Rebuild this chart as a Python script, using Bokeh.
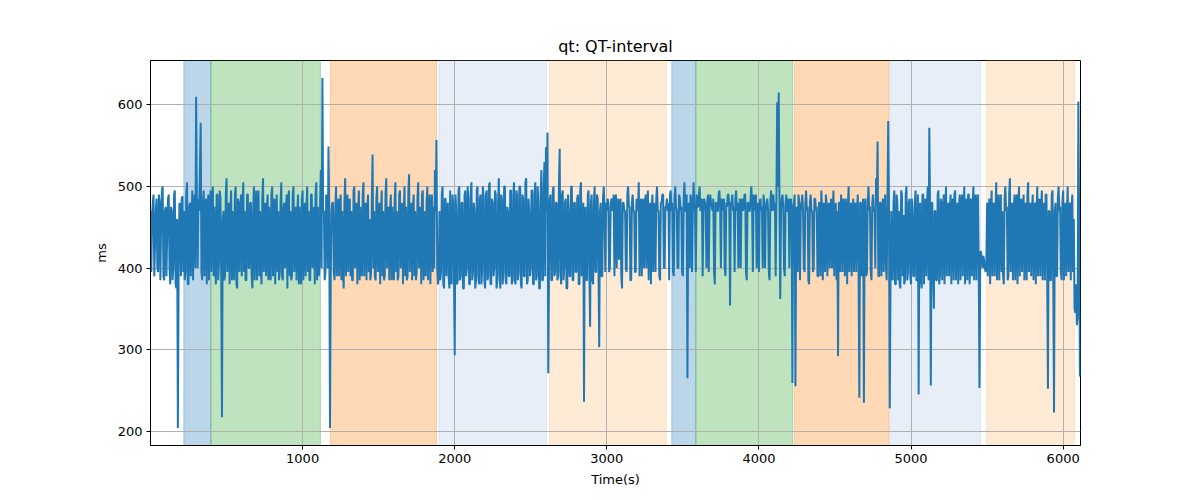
from bokeh.plotting import figure
from bokeh.models import Range1d, FixedTicker, ColumnDataSource
from bokeh.embed import file_html
from bokeh.resources import INLINE

# QT interval values (ms), one sample every 5 s
qt_ms = [
    470, 395, 455, 480, 490, 390, 430, 470, 485, 400, 395, 490, 480, 385, 460, 495, 500, 390, 385, 470,
    475, 390, 445, 485, 490, 400, 380, 475, 470, 385, 400, 490, 495, 380, 375, 460, 204, 400, 480, 470,
    390, 485, 488, 395, 470, 385, 395, 490, 505, 380, 380, 475, 480, 390, 455, 495, 385, 470, 490, 400,
    610, 470, 400, 485, 470, 520, 578, 395, 385, 480, 495, 390, 460, 485, 380, 470, 490, 385, 470, 495,
    395, 480, 500, 390, 475, 400, 380, 490, 490, 385, 405, 495, 485, 390, 217, 460, 470, 385, 390, 490,
    510, 395, 450, 480, 380, 470, 495, 385, 470, 400, 385, 490, 500, 380, 375, 485, 480, 395, 465, 490,
    390, 475, 505, 395, 470, 385, 385, 490, 490, 400, 400, 480, 480, 390, 375, 470, 500, 385, 460, 495,
    385, 470, 495, 390, 470, 400, 380, 485, 510, 395, 445, 480, 390, 470, 490, 385, 475, 395, 385, 490,
    500, 390, 460, 485, 380, 470, 490, 395, 470, 385, 395, 480, 505, 390, 385, 475, 480, 400, 465, 490,
    375, 480, 495, 390, 470, 385, 390, 490, 500, 395, 440, 475, 385, 470, 490, 380, 475, 400, 380, 485,
    495, 385, 465, 480, 390, 470, 500, 395, 470, 385, 385, 490, 490, 400, 460, 475, 380, 490, 505, 385,
    475, 390, 395, 480, 520, 400, 633, 470, 470, 385, 395, 490, 485, 400, 549, 470, 204, 390, 470, 480,
    480, 395, 385, 470, 500, 390, 460, 485, 390, 475, 490, 385, 470, 400, 375, 480, 510, 390, 455, 490,
    395, 480, 485, 390, 470, 385, 385, 495, 500, 400, 465, 480, 380, 470, 495, 385, 475, 395, 390, 490,
    505, 390, 470, 480, 385, 470, 490, 395, 460, 385, 395, 480, 539, 400, 470, 390, 385, 485, 500, 395,
    465, 480, 380, 470, 495, 390, 470, 385, 390, 490, 510, 400, 455, 475, 385, 470, 490, 385, 475, 395,
    385, 480, 505, 395, 470, 385, 390, 490, 495, 400, 460, 480, 380, 470, 500, 390, 475, 385, 390, 490,
    515, 395, 465, 480, 385, 470, 490, 390, 470, 385, 395, 485, 505, 400, 460, 475, 380, 490, 495, 385,
    470, 395, 390, 480, 500, 385, 465, 490, 380, 470, 490, 395, 475, 400, 520, 470, 557, 400, 380, 390,
    470, 385, 395, 490, 500, 380, 375, 485, 485, 390, 460, 480, 390, 375, 495, 385, 380, 490, 480, 395,
    293, 490, 470, 380, 385, 495, 500, 385, 390, 480, 480, 375, 375, 490, 495, 390, 400, 500, 485, 380,
    380, 490, 505, 385, 395, 480, 470, 375, 385, 495, 500, 390, 380, 485, 490, 380, 395, 500, 485, 385,
    375, 490, 495, 385, 390, 500, 505, 380, 380, 485, 480, 390, 400, 495, 490, 375, 385, 480, 510, 390,
    375, 490, 485, 380, 395, 500, 500, 385, 380, 475, 470, 390, 390, 495, 495, 380, 385, 490, 505, 385,
    380, 495, 490, 385, 395, 500, 500, 380, 375, 490, 485, 390, 390, 505, 510, 380, 385, 485, 470, 390,
    400, 495, 495, 380, 380, 490, 505, 385, 390, 500, 480, 375, 375, 490, 520, 385, 385, 500, 530, 390,
    548, 470, 566, 271, 400, 485, 490, 385, 385, 495, 500, 390, 395, 480, 480, 385, 390, 500, 546, 395,
    380, 490, 495, 385, 400, 480, 485, 375, 375, 490, 470, 390, 390, 500, 500, 385, 385, 480, 480, 395,
    395, 485, 490, 380, 380, 495, 505, 390, 400, 480, 236, 470, 475, 385, 385, 490, 495, 400, 328, 480,
    490, 385, 380, 480, 500, 395, 395, 490, 485, 400, 303, 470, 480, 390, 390, 485, 500, 470, 395, 480,
    470, 485, 480, 395, 400, 475, 485, 470, 475, 490, 390, 480, 490, 400, 470, 485, 410, 470, 485, 390,
    375, 480, 480, 470, 470, 400, 395, 490, 500, 475, 475, 385, 385, 480, 490, 470, 470, 395, 395, 485,
    480, 470, 505, 390, 470, 485, 390, 475, 485, 400, 475, 490, 400, 470, 495, 385, 470, 480, 380, 475,
    490, 395, 480, 470, 395, 485, 500, 470, 470, 390, 385, 480, 480, 490, 490, 400, 400, 475, 475, 485,
    470, 480, 385, 490, 495, 470, 480, 395, 390, 485, 500, 475, 470, 400, 400, 490, 485, 470, 475, 395,
    390, 480, 505, 470, 470, 490, 265, 475, 480, 400, 490, 485, 395, 470, 505, 480, 470, 395, 490, 475,
    475, 490, 500, 470, 480, 485, 390, 470, 485, 480, 470, 400, 480, 490, 395, 475, 490, 480, 475, 470,
    485, 395, 380, 480, 480, 470, 470, 490, 495, 475, 400, 485, 480, 470, 485, 400, 390, 480, 475, 490,
    490, 475, 354, 480, 480, 490, 470, 475, 395, 485, 495, 470, 480, 400, 470, 485, 400, 480, 485, 470,
    475, 490, 490, 395, 385, 480, 480, 470, 470, 485, 500, 475, 395, 490, 480, 470, 490, 400, 470, 480,
    395, 480, 485, 470, 475, 400, 490, 480, 400, 470, 480, 485, 470, 395, 385, 480, 495, 470, 480, 490,
    470, 480, 390, 485, 603, 500, 615, 480, 362, 470, 485, 490, 475, 400, 390, 480, 490, 470, 470, 485,
    400, 480, 485, 470, 259, 475, 480, 490, 255, 470, 475, 395, 490, 480, 385, 470, 480, 490, 470, 400,
    395, 480, 495, 470, 475, 385, 380, 480, 490, 470, 470, 395, 400, 485, 485, 470, 475, 390, 390, 480,
    480, 390, 495, 470, 385, 480, 470, 395, 490, 480, 390, 470, 480, 400, 475, 485, 400, 470, 495, 390,
    470, 480, 385, 470, 292, 480, 480, 395, 490, 470, 395, 485, 475, 390, 485, 470, 380, 480, 500, 395,
    470, 480, 390, 470, 485, 395, 475, 480, 395, 470, 490, 400, 241, 480, 480, 390, 470, 485, 235, 470,
    485, 390, 395, 480, 500, 470, 475, 395, 385, 480, 490, 470, 470, 400, 510, 480, 555, 390, 390, 480,
    480, 390, 470, 485, 395, 470, 490, 400, 385, 480, 580, 470, 228, 385, 470, 390, 385, 480, 495, 380,
    380, 490, 480, 385, 470, 380, 375, 495, 490, 390, 465, 380, 385, 490, 500, 385, 395, 480, 485, 390,
    380, 485, 470, 390, 390, 480, 495, 385, 385, 490, 245, 470, 480, 385, 375, 490, 490, 380, 465, 485,
    390, 480, 500, 385, 572, 470, 256, 480, 480, 390, 350, 470, 470, 385, 385, 490, 495, 380, 390, 485,
    480, 385, 470, 490, 380, 475, 500, 390, 465, 480, 390, 470, 490, 380, 470, 485, 385, 490, 495, 385,
    460, 480, 380, 475, 490, 385, 475, 490, 390, 470, 500, 380, 470, 485, 385, 490, 490, 380, 475, 485,
    390, 480, 500, 385, 470, 490, 385, 475, 490, 400, 253, 420, 420, 410, 400, 415, 410, 400, 395, 405,
    480, 390, 470, 485, 380, 470, 495, 390, 475, 480, 390, 470, 505, 385, 460, 490, 385, 475, 490, 395,
    470, 390, 380, 485, 500, 470, 475, 385, 390, 490, 510, 395, 465, 480, 385, 470, 490, 385, 475, 490,
    380, 475, 500, 390, 470, 485, 395, 470, 490, 385, 475, 480, 385, 490, 505, 395, 470, 480, 390, 470,
    490, 385, 475, 480, 380, 470, 500, 390, 470, 485, 390, 470, 495, 385, 465, 480, 385, 490, 490, 395,
    252, 470, 470, 385, 385, 490, 495, 380, 223, 470, 480, 390, 390, 485, 500, 470, 475, 395, 385, 480,
    495, 385, 470, 480, 390, 470, 500, 395, 475, 480, 385, 470, 490, 395, 460, 350, 345, 380, 330, 340,
    604, 460, 267,
]
sample_step_s = 5
time_s = [i * sample_step_s for i in range(len(qt_ms))]

# Shaded segments (start, end, colour)
seg_start = [219, 397, 1183, 1896, 2622, 3427, 3585, 4234, 4861, 5496]
seg_end = [397, 1117, 1880, 2603, 3391, 3585, 4223, 4855, 5457, 6075]
seg_color = ["#1f77b4", "#2ca02c", "#ff7f0e", "#aec7e8", "#ffbb78",
             "#1f77b4", "#2ca02c", "#ff7f0e", "#aec7e8", "#ffbb78"]

x_ticks = [1000, 2000, 3000, 4000, 5000, 6000]
y_ticks = [200, 300, 400, 500, 600]

p = figure(width=1200, height=500, output_backend="svg", toolbar_location=None,
           x_range=Range1d(0, 6114), y_range=Range1d(182.5, 654.3),
           min_border_left=150, min_border_right=120, min_border_top=60, min_border_bottom=55,
           title="qt: QT-interval")
p.title.align = "center"
p.title.text_font = "DejaVu Sans"
p.title.text_font_size = "16px"
p.title.text_font_style = "normal"
p.title.text_color = "black"

seg_src = ColumnDataSource(dict(left=seg_start, right=seg_end, color=seg_color))
p.quad(left="left", right="right", bottom=-1e4, top=1e4, source=seg_src,
       fill_color="color", fill_alpha=0.3, line_color="color", line_alpha=0.3, line_width=1,
       level="image")

p.line(time_s, qt_ms, line_color="#1f77b4", line_width=2)

p.outline_line_color = "black"
p.outline_line_width = 1
p.background_fill_color = "white"
p.border_fill_color = "white"

for g in (p.xgrid, p.ygrid):
    g.grid_line_color = "#b0b0b0"
    g.grid_line_width = 1
p.xgrid.ticker = FixedTicker(ticks=x_ticks)
p.ygrid.ticker = FixedTicker(ticks=y_ticks)

p.xaxis.ticker = FixedTicker(ticks=x_ticks)
p.yaxis.ticker = FixedTicker(ticks=y_ticks)
p.xaxis.axis_label = "Time(s)"
p.yaxis.axis_label = "ms"
for ax in (p.xaxis, p.yaxis):
    ax.axis_label_text_font = "DejaVu Sans"
    ax.axis_label_text_font_size = "13px"
    ax.axis_label_text_font_style = "normal"
    ax.axis_label_text_color = "black"
    ax.major_label_text_font = "DejaVu Sans"
    ax.major_label_text_font_size = "13px"
    ax.major_label_text_color = "black"
    ax.axis_line_color = "black"
    ax.major_tick_line_color = "black"
    ax.major_tick_in = 0
    ax.major_tick_out = 4
    ax.minor_tick_line_color = None
    ax.major_label_standoff = 4
    ax.axis_label_standoff = 6

open("out.html", "w").write(file_html(p, INLINE))
